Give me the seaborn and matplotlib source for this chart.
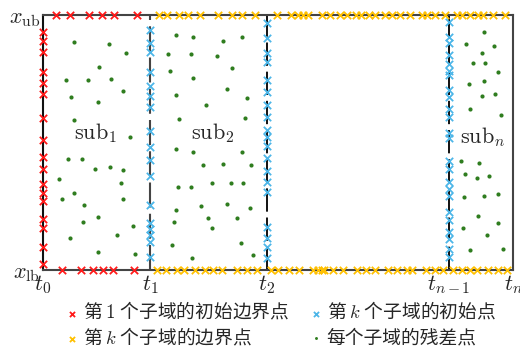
import numpy as np
import pandas as pd
import matplotlib
matplotlib.use("Agg")
import matplotlib.pyplot as plt
import seaborn as sns

sns.set_style("white")
plt.rcParams['font.family'] = ['Noto Sans CJK SC', 'DejaVu Sans']
plt.rcParams['mathtext.fontset'] = 'cm'

# domain: t from t0=0 to tn=470, x from x_lb=0 to x_ub=255
t_ticks = [0, 107, 224, 406, 470]
t_labels = [r'$t_0$', r'$t_1$', r'$t_2$', r'$t_{n-1}$', r'$t_n$']
x_ticks = [0, 255]
x_labels = [r'$x_{\rm lb}$', r'$x_{\rm ub}$']
t_cuts = [107, 224, 406]

# first subdomain, initial + boundary points (red)
red_left_x = [238, 229, 218, 198, 187, 176, 152, 130, 113, 101, 86, 77, 69, 51, 42, 23, 6]
red_top_t = [13, 27, 46, 59, 71, 94]
red_bot_t = [19, 38, 50, 60, 70, 91]

# boundary points of subdomain k (yellow)
yel_top_t = [116, 124, 136, 145, 157, 175, 189, 199, 212, 234, 248, 255, 260, 265, 279, 287,
             297, 304, 313, 318, 326, 332, 342, 349, 357, 367, 379, 384, 392, 402, 414, 419,
             427, 435, 440, 450, 462]
yel_bot_t = [114, 123, 134, 141, 152, 162, 170, 179, 194, 204, 214, 228, 235, 246, 256, 270,
             275, 279, 281, 290, 300, 314, 323, 332, 345, 354, 364, 369, 383, 392, 400, 410,
             419, 427, 434, 445, 455, 464]

# initial points of subdomain k (blue), on t1, t2, t_{n-1}
blue_t1_x = [240, 227, 218, 198, 184, 174, 163, 139, 123, 110, 94, 65, 47, 41, 35, 28, 13]
blue_t2_x = [247, 232, 217, 208, 190, 178, 165, 153, 140, 133, 124, 112, 99, 88, 78, 43, 32, 23, 12]
blue_tn1_x = [248, 233, 227, 215, 206, 199, 195, 180, 173, 161, 153, 137, 132, 109, 101, 88,
              81, 74, 58, 50, 38, 31, 21, 13]

# residual points (green)
sub1_t = [31, 66, 83, 56, 23, 45, 68, 80, 28, 55, 31, 87, 25, 39, 52, 67, 80, 16, 78, 31,
          19, 80, 41, 55, 40, 90, 74, 27, 55, 92]
sub1_x = [228, 226, 217, 203, 190, 190, 191, 179, 173, 168, 150, 133, 111, 111, 101, 103, 100,
          91, 87, 77, 71, 71, 65, 53, 48, 44, 35, 32, 18, 16]
sub2_t = [133, 150, 180, 199, 125, 148, 174, 127, 189, 150, 184, 133, 204, 163, 136, 202, 133,
          150, 199, 160, 180, 208, 135, 148, 169, 188, 200, 184, 158, 133, 207, 165, 194, 131,
          169, 198, 129, 149, 210]
sub2_x = [235, 233, 229, 233, 216, 216, 214, 199, 202, 192, 181, 175, 172, 165, 151, 152, 121,
          118, 118, 105, 106, 105, 83, 83, 87, 87, 87, 66, 64, 60, 62, 52, 52, 48, 42, 27, 25,
          12, 15]
subn_t = [441, 423, 451, 439, 430, 442, 455, 426, 441, 452, 439, 427, 458, 418, 436, 422, 434,
          446, 421, 441, 455, 435, 455, 420, 444, 427, 460]
subn_x = [238, 226, 224, 217, 207, 207, 198, 186, 189, 176, 174, 161, 155, 109, 107, 96, 92,
          94, 73, 74, 76, 54, 47, 42, 35, 20, 21]

sub_names = [r'$\mathrm{sub}_1$', r'$\mathrm{sub}_2$', r'$\mathrm{sub}_n$']
sub_name_t = [52, 170, 440]
sub_name_x = [137, 137, 133]

red = pd.DataFrame({
    't': [0] * len(red_left_x) + red_top_t + red_bot_t,
    'x': red_left_x + [255] * len(red_top_t) + [0] * len(red_bot_t)})
yel = pd.DataFrame({
    't': yel_top_t + yel_bot_t,
    'x': [255] * len(yel_top_t) + [0] * len(yel_bot_t)})
blue = pd.DataFrame({
    't': [t_cuts[0]] * len(blue_t1_x) + [t_cuts[1]] * len(blue_t2_x) + [t_cuts[2]] * len(blue_tn1_x),
    'x': blue_t1_x + blue_t2_x + blue_tn1_x})
green = pd.DataFrame({'t': sub1_t + sub2_t + subn_t, 'x': sub1_x + sub2_x + subn_x})

fig = plt.figure(figsize=(5.2, 3.51), dpi=100)
ax = fig.add_axes([43 / 520, 81 / 351, 470 / 520, 255 / 351])

ax.axvline(t_cuts[0], color='#444444', lw=1.5, dashes=(12, 3), zorder=1)
for tc in t_cuts[1:]:
    ax.axvline(tc, color='#111111', lw=1.4, dashes=(12, 3), zorder=1)

sns.scatterplot(data=red, x='t', y='x', ax=ax, marker='x', color='#ff1a1a', s=28, linewidth=1.3,
                clip_on=False, zorder=4, label='第 $1$ 个子域的初始边界点')
sns.scatterplot(data=yel, x='t', y='x', ax=ax, marker='x', color='#ffc000', s=28, linewidth=1.3,
                clip_on=False, zorder=4, label='第 $k$ 个子域的边界点')
sns.scatterplot(data=blue, x='t', y='x', ax=ax, marker='x', color='#4db6e8', s=28, linewidth=1.3,
                clip_on=False, zorder=4, label='第 $k$ 个子域的初始点')
sns.scatterplot(data=green, x='t', y='x', ax=ax, marker='o', color='#2f7d1f', s=9, linewidth=0,
                zorder=3, label='每个子域的残差点')

for name, tt, xx in zip(sub_names, sub_name_t, sub_name_x):
    ax.text(tt, xx, name, ha='center', va='center', fontsize=16)

ax.set_xlim(0, 470)
ax.set_ylim(0, 255)
ax.set_xticks(t_ticks)
ax.set_xticklabels(t_labels, fontsize=16)
ax.set_yticks(x_ticks)
ax.set_yticklabels(x_labels, fontsize=16)
ax.tick_params(length=0, pad=2)
ax.set_xlabel('')
ax.set_ylabel('')
for side in ['top', 'right', 'bottom']:
    ax.spines[side].set_color('#444444')
    ax.spines[side].set_linewidth(1.5)
ax.spines['left'].set_color('#111111')
ax.spines['left'].set_linewidth(1.5)

handles, labels = ax.get_legend_handles_labels()
ax.get_legend().remove()
fig.legend(handles, labels, loc='center', bbox_to_anchor=(0.54, 0.073), ncol=2,
           frameon=False, fontsize=13.5, handletextpad=0.2, handlelength=0.7,
           columnspacing=1.1, labelspacing=0.2, markerscale=0.7, borderpad=0.2)

fig.savefig('out.png', dpi=100)
